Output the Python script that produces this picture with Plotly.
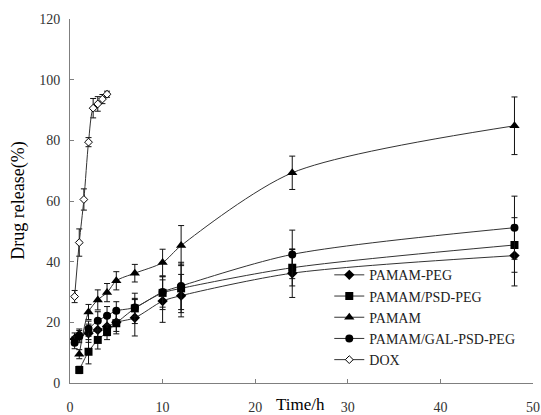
import plotly.graph_objects as go

# Sampling times (h)
t_main = [0.5, 1, 2, 3, 4, 5, 7, 10, 12, 24, 48]
t_late = [1, 2, 3, 4, 5, 7, 10, 12, 24, 48]
t_dox = [0.5, 1, 1.5, 2, 2.5, 3, 3.5, 4]

# Cumulative release (%) and standard deviations
peg = [14.5, 15.8, 16.4, 17.5, 18.6, 20.0, 21.5, 27.0, 28.8, 36.2, 42.0]
peg_sd = [2, 2, 3, 3, 3, 3, 6, 7, 7, 8, 10]

psd_peg = [4.3, 10.3, 14.2, 16.8, 19.7, 24.6, 29.7, 31.2, 38.0, 45.5]
psd_peg_sd = [1.2, 4, 3, 2.5, 3.5, 5, 5.5, 8, 6, 9]

pamam = [9.5, 23.4, 27.4, 29.8, 33.7, 36.2, 39.7, 45.3, 69.3, 84.8]
pamam_sd = [1.5, 2.5, 3.3, 3, 3, 2.9, 4.4, 6.6, 5.5, 9.5]

gal = [13.3, 15.3, 17.9, 20.5, 22.2, 23.8, 24.9, 30.0, 32.0, 42.4, 51.2]
gal_sd = [2, 2, 2.5, 3, 3, 3, 3, 5, 7.8, 8, 10.4]

dox = [28.5, 46.3, 60.5, 79.4, 90.6, 92.0, 93.6, 95.2]
dox_sd = [2, 4.5, 3.5, 1.5, 3.2, 2.4, 1.5, 1]

SERIF = "'Liberation Serif', 'Times New Roman', 'DejaVu Serif', serif"
LINE = dict(color="#333333", width=1, shape="spline", smoothing=0.8)


def err(sd):
    return dict(type="data", array=sd, visible=True, color="#111111",
                thickness=1, width=3)


fig = go.Figure()
fig.add_trace(go.Scatter(x=t_main, y=peg, name="PAMAM-PEG", mode="lines+markers",
                         line=LINE, error_y=err(peg_sd),
                         marker=dict(symbol="diamond", size=8, color="black")))
fig.add_trace(go.Scatter(x=t_late, y=psd_peg, name="PAMAM/PSD-PEG", mode="lines+markers",
                         line=LINE, error_y=err(psd_peg_sd),
                         marker=dict(symbol="square", size=8, color="black")))
fig.add_trace(go.Scatter(x=t_late, y=pamam, name="PAMAM", mode="lines+markers",
                         line=LINE, error_y=err(pamam_sd),
                         marker=dict(symbol="triangle-up", size=9, color="black")))
fig.add_trace(go.Scatter(x=t_main, y=gal, name="PAMAM/GAL-PSD-PEG", mode="lines+markers",
                         line=LINE, error_y=err(gal_sd),
                         marker=dict(symbol="circle", size=8, color="black")))
fig.add_trace(go.Scatter(x=t_dox, y=dox, name="DOX", mode="lines+markers",
                         line=LINE, error_y=err(dox_sd),
                         marker=dict(symbol="diamond", size=6, color="white",
                                     line=dict(color="black", width=1))))

axis_common = dict(showline=True, linecolor="#7f7f7f", linewidth=1, showgrid=False,
                   zeroline=False, ticks="inside", ticklen=4, tickcolor="#7f7f7f",
                   automargin=False,
                   tickfont=dict(family=SERIF, size=14, color="#333333"))

fig.update_layout(
    width=541, height=415,
    margin=dict(l=70, r=8, t=19, b=32, autoexpand=False),
    paper_bgcolor="white", plot_bgcolor="white",
    showlegend=True,
    legend=dict(x=0.56, y=0.34, xanchor="left", yanchor="top",
                font=dict(family=SERIF, size=14, color="#222222"),
                bgcolor="rgba(0,0,0,0)", tracegroupgap=0, itemwidth=30),
    xaxis=dict(range=[0, 50], tickvals=[0, 10, 20, 30, 40, 50],
               ticklabelstandoff=11, **axis_common),
    yaxis=dict(range=[0, 120], tickvals=[0, 20, 40, 60, 80, 100, 120],
               ticklabelstandoff=6, **axis_common),
)

fig.add_annotation(text="Time/h", xref="x", yref="paper", x=24.9, y=-0.058,
                   yanchor="middle", showarrow=False,
                   font=dict(family=SERIF, size=17, color="black"))
fig.add_annotation(text="Drug release(%)", xref="paper", yref="paper", x=-0.14, y=0.5,
                   textangle=-90, showarrow=False,
                   font=dict(family=SERIF, size=18, color="black"))

fig.write_html("out.html")
